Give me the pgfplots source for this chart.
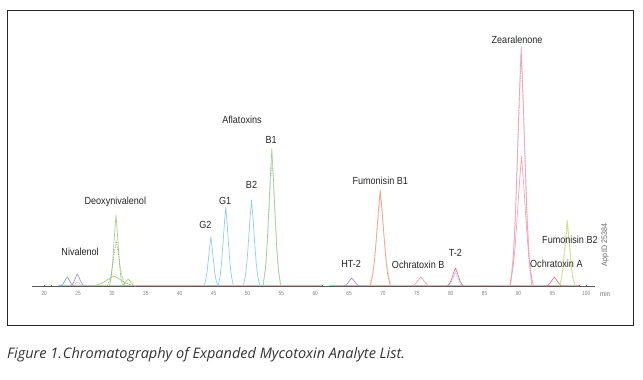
\documentclass[border=0pt]{standalone}
\usepackage{pgfplots}
\pgfplotsset{compat=1.18}
\usepackage{fontspec}
\setmainfont{Liberation Sans}
\newfontfamily\labfont[FakeStretch=0.88]{Liberation Sans}
\newfontfamily\tickfontfam[FakeStretch=0.8]{Liberation Sans}
\newfontfamily\capfont{Open Sans}
\definecolor{cblue}{HTML}{8FCFE8}
\definecolor{cgreen}{HTML}{A6D08A}
\definecolor{cpink}{HTML}{F4A3B4}
\definecolor{cpinkd}{HTML}{E8788E}
\definecolor{corange}{HTML}{F4A274}
\definecolor{cpurple}{HTML}{9C9CD2}
\definecolor{cyellow}{HTML}{D5E07A}
\begin{document}
\begin{tikzpicture}
\useasboundingbox (0,0) rectangle (643pt,380pt);
\draw[line width=1pt, black!85] (7pt,54pt) rectangle (633pt,369pt);
\begin{axis}[
  at={(32pt,94pt)}, anchor=south west,
  scale only axis, width=563pt, height=250pt,
  xmin=18.2, xmax=101.3, ymin=0, ymax=250,
  axis x line*=bottom, axis y line=none,
  axis line style={black!65, line width=0.6pt},
  xtick={20,25,...,100},
  minor x tick num=4,
  tick align=center,
  major tick length=2.5pt, minor tick length=1.2pt,
  tick style={black!55, line width=0.3pt},
  /pgf/number format/assume math mode=true,
  xticklabel style={font=\tickfontfam\fontsize{6}{7}\selectfont, text=black!50, yshift=-1pt},
  clip=false,
  every axis plot/.append style={line width=0.7pt, line join=round},
]
% baseline traces
\addplot[cblue] coordinates {(22,0.6) (60,0.6)};
\addplot[cgreen] coordinates {(33,0.4) (61,0.4)};
\addplot[cpink] coordinates {(62,0.5) (99,0.5)};
% Nivalenol
\addplot[cpurple] coordinates {(22.35,0) (22.62,1.1) (22.82,2.5) (23.01,4.7) (23.2,7.0) (23.4,9) (23.6,7.0) (23.79,4.7) (23.99,2.5) (24.18,1.1) (24.45,0)};
\addplot[cpurple] coordinates {(23.85,0) (24.12,1.4) (24.32,3.4) (24.51,6.2) (24.7,9.4) (24.9,12) (25.1,9.4) (25.29,6.2) (25.48,3.4) (25.68,1.4) (25.95,0)};
\addplot[cpink, densely dotted] coordinates {(24.2,0) (24.5,2) (24.9,4) (25.3,2) (25.6,0)};
% Deoxynivalenol
\addplot[cgreen] coordinates {(27.06,0) (27.9,1.2) (28.5,2.8) (29.1,5.2) (29.7,7.8) (30.3,10) (30.9,7.8) (31.5,5.2) (32.1,2.8) (32.7,1.2) (33.54,0)};
\addplot[cgreen] coordinates {(31.32,0) (31.6,0.8) (31.8,2.0) (32.0,3.6) (32.2,5.5) (32.4,7) (32.6,5.5) (32.8,3.6) (33.0,2.0) (33.2,0.8) (33.48,0)};
\addplot[cgreen] coordinates {(29.63,0) (29.88,8.5) (30.06,19.9) (30.24,36.9) (30.42,55.4) (30.6,71) (30.78,55.4) (30.96,36.9) (31.14,19.9) (31.32,8.5) (31.57,0)};
\addplot[cgreen!80!black, densely dotted] coordinates {(29.3,0) (29.65,5.4) (29.9,12.6) (30.15,23.4) (30.4,35.1) (30.65,45) (30.9,35.1) (31.15,23.4) (31.4,12.6) (31.65,5.4) (32.0,0)};
% Aflatoxins
\addplot[cblue] coordinates {(43.57,0) (43.84,5.9) (44.03,13.7) (44.22,25.5) (44.41,38.2) (44.6,49) (44.79,38.2) (44.98,25.5) (45.17,13.7) (45.36,5.9) (45.63,0)};
\addplot[cblue] coordinates {(45.67,0) (45.96,9.5) (46.17,22.1) (46.38,41.1) (46.59,61.6) (46.8,79) (47.01,61.6) (47.22,41.1) (47.43,22.1) (47.64,9.5) (47.93,0)};
\addplot[cblue] coordinates {(49.38,0) (49.7,10.3) (49.93,24.1) (50.15,44.7) (50.38,67.1) (50.6,86) (50.83,67.1) (51.05,44.7) (51.28,24.1) (51.5,10.3) (51.82,0)};
\addplot[cblue, densely dotted] coordinates {(52.27,0) (52.62,15) (52.87,35) (53.12,65) (53.37,97.5) (53.62,125) (53.87,97.5) (54.12,65) (54.37,35) (54.62,15) (54.97,0)};
\addplot[cgreen] coordinates {(52.3,0) (52.64,16.4) (52.88,38.4) (53.12,71.2) (53.36,106.9) (53.6,137) (53.84,106.9) (54.08,71.2) (54.32,38.4) (54.56,16.4) (54.9,0)};
% HT-2
\addplot[cpurple] coordinates {(64.18,0) (64.5,1.0) (64.73,2.2) (64.95,4.2) (65.18,6.2) (65.4,8) (65.63,6.2) (65.85,4.2) (66.08,2.2) (66.3,1.0) (66.62,0)};
% Fumonisin B1
\addplot[corange] coordinates {(68.11,0) (68.5,11.5) (68.78,26.9) (69.05,49.9) (69.33,74.9) (69.6,96) (69.88,74.9) (70.15,49.9) (70.43,26.9) (70.7,11.5) (71.09,0)};
\addplot[cpink, densely dotted] coordinates {(68.0,0) (68.42,10.8) (68.72,25.2) (69.02,46.8) (69.32,70.2) (69.62,90) (69.92,70.2) (70.22,46.8) (70.52,25.2) (70.82,10.8) (71.24,0)};
% Ochratoxin B
\addplot[cpink] coordinates {(74.25,0) (74.6,1.1) (74.85,2.5) (75.1,4.7) (75.35,7.0) (75.6,9) (75.85,7.0) (76.1,4.7) (76.35,2.5) (76.6,1.1) (76.95,0)};
% T-2
\addplot[cpinkd] coordinates {(79.48,0) (79.8,2.2) (80.03,5.0) (80.25,9.4) (80.48,14.0) (80.7,18) (80.93,14.0) (81.15,9.4) (81.38,5.0) (81.6,2.2) (81.92,0)};
\addplot[cpurple, densely dotted] coordinates {(79.7,0) (80.1,4) (80.4,9) (80.7,14) (81.0,9) (81.3,4) (81.7,0)};
% Zearalenone
\addplot[cpink] coordinates {(88.69,0) (89.15,15.6) (89.48,36.4) (89.8,67.6) (90.13,101.4) (90.45,130) (90.78,101.4) (91.1,67.6) (91.43,36.4) (91.75,15.6) (92.21,0)};
\addplot[cpinkd, densely dotted] coordinates {(88.8,0) (89.22,27.8) (89.52,65) (89.82,120.6) (90.12,181) (90.42,232) (90.72,181) (91.02,120.6) (91.32,65) (91.62,27.8) (92.04,0)};
\addplot[cpink] coordinates {(88.83,0) (89.24,28.7) (89.53,66.9) (89.82,124.3) (90.11,186.4) (90.4,239) (90.69,186.4) (90.98,124.3) (91.27,66.9) (91.56,28.7) (91.97,0)};
% Ochratoxin A
\addplot[cpinkd] coordinates {(94.08,0) (94.4,1.1) (94.63,2.5) (94.85,4.7) (95.08,7.0) (95.3,9) (95.53,7.0) (95.75,4.7) (95.98,2.5) (96.2,1.1) (96.52,0)};
% Fumonisin B2
\addplot[cgreen, densely dotted] coordinates {(96.03,0) (96.34,7.2) (96.56,16.8) (96.78,31.2) (97.0,46.8) (97.22,60) (97.44,46.8) (97.66,31.2) (97.88,16.8) (98.1,7.2) (98.41,0)};
\addplot[cyellow] coordinates {(96.07,0) (96.36,7.9) (96.57,18.5) (96.78,34.3) (96.99,51.5) (97.2,66) (97.41,51.5) (97.62,34.3) (97.83,18.5) (98.04,7.9) (98.33,0)};
% labels
\begin{scope}[every node/.style={font=\labfont\fontsize{10.3}{12}\selectfont, text=black!85, inner sep=0pt}]
\node at (axis cs:25.3,34) {Nivalenol};
\node at (axis cs:30.5,84) {Deoxynivalenol};
\node at (axis cs:43.8,61) {G2};
\node at (axis cs:46.7,85) {G1};
\node at (axis cs:50.6,101) {B2};
\node at (axis cs:53.5,146) {B1};
\node at (axis cs:49.2,166) {Aflatoxins};
\node at (axis cs:65.3,22) {HT-2};
\node at (axis cs:69.6,105) {Fumonisin B1};
\node at (axis cs:75.2,21) {Ochratoxin B};
\node at (axis cs:80.7,33) {T-2};
\node at (axis cs:89.8,246) {Zearalenone};
\node at (axis cs:95.6,22) {Ochratoxin A};
\node at (axis cs:97.6,46) {Fumonisin B2};
\end{scope}
\node[rotate=90, font=\labfont\fontsize{8}{9}\selectfont, text=black!60, inner sep=0pt] at (axis cs:102.8,41) {App ID 25384};
\node[font=\labfont\fontsize{7}{8}\selectfont, text=black!55, inner sep=0pt] at (axis cs:102.8,-8) {min};
\end{axis}
\node[anchor=base west, inner sep=0pt, font=\capfont\itshape\fontsize{14.5}{16}\selectfont, text=black!80] at (7pt,21pt) {Figure 1.\hspace{1pt}Chromatography of Expanded Mycotoxin Analyte List.};
\end{tikzpicture}
\end{document}
